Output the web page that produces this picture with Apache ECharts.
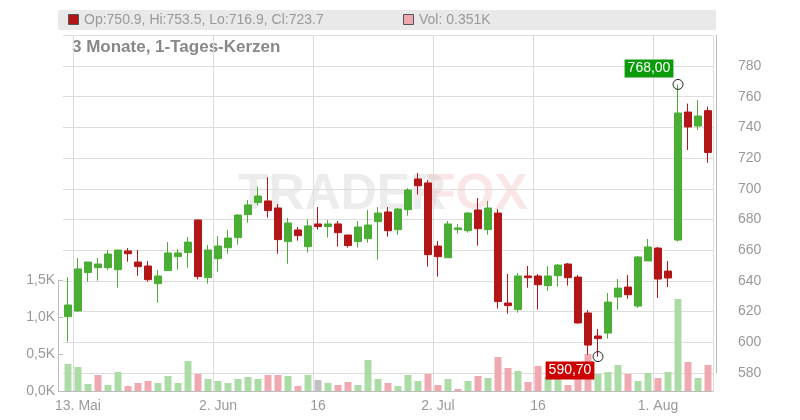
<!DOCTYPE html>
<html>
<head>
<meta charset="utf-8">
<script src="https://cdn.jsdelivr.net/npm/echarts@6/dist/echarts.min.js"></script>
<style>
  html, body { margin: 0; padding: 0; background: #fff; }
  #chart { width: 800px; height: 420px; }
</style>
</head>
<body>
<div id="chart"></div>
<script>
// candles: [open, close, low, high]
var opens  = [616.7,620.4,645.4,648.6,648.6,647.3,659.5,652.3,649.7,638.2,646.7,655.8,658.4,679.7,642.1,654.5,661.6,668.2,683.2,691.0,692.1,687.5,665.6,673.2,
              662.3,677.1,675.4,677.1,669.9,665.6,667.5,678.6,684.9,673.4,686.4,706.4,703.8,662.7,655.1,673.4,672.7,686.2,673.4,684.2,625.6,621.3,643.2,643.2,
              636.9,643.4,651.0,642.5,619.1,604.1,606.0,629.5,636.0,623.6,653.0,661.4,646.4,666.6,750.0,740.9,750.9];
var closes = [624.3,647.8,652.3,651.0,657.5,660.1,657.7,649.3,640.8,643.2,658.2,658.2,665.3,642.8,660.1,662.7,667.9,682.9,689.5,695.3,685.8,666.9,677.7,669.5,
              675.8,675.4,677.1,671.4,663.0,675.1,676.4,684.2,672.7,686.8,699.2,702.0,657.1,655.8,677.1,674.5,684.2,674.0,687.5,626.5,623.9,643.2,642.1,637.5,
              643.2,650.3,642.1,612.6,598.2,602.4,626.2,635.3,631.0,655.6,662.1,641.2,641.9,749.4,740.3,747.4,723.7];
var lows   = [600.4,620.0,639.5,640.2,647.1,635.6,652.5,643.4,639.5,625.8,646.7,647.3,648.6,641.0,638.2,646.0,657.7,663.6,677.9,689.0,681.2,657.7,651.2,666.2,
              658.4,673.4,668.2,662.3,661.7,661.7,664.9,653.8,668.8,670.1,682.5,696.2,649.3,642.8,655.1,670.8,671.4,663.0,670.1,621.9,618.7,619.3,635.6,621.3,
              633.6,636.2,636.9,612.1,591.9,590.7,602.4,621.2,628.4,622.3,653.0,628.9,636.0,665.6,725.3,738.3,716.9];
var highs  = [642.3,654.9,652.3,654.9,660.1,660.1,661.4,660.1,653.0,647.1,665.3,660.8,668.6,679.7,663.4,669.2,673.2,683.6,692.7,701.4,707.5,690.1,681.0,675.1,
              680.1,688.1,679.7,679.0,669.9,679.0,686.2,688.1,688.1,687.5,700.5,710.3,705.7,666.0,679.0,677.1,684.9,694.0,692.1,686.8,644.5,645.1,649.7,644.5,
              649.7,651.0,651.7,643.8,621.0,608.7,632.1,641.2,643.8,656.2,667.3,662.1,653.0,768.0,755.5,757.8,753.5];
// volume in thousands
var volumes = [0.365,0.324,0.095,0.216,0.081,0.257,0.068,0.108,0.135,0.108,0.203,0.108,0.405,0.230,0.162,0.135,0.108,0.162,0.189,0.162,0.216,0.216,0.203,0.068,
               0.216,0.149,0.108,0.081,0.122,0.081,0.419,0.162,0.108,0.068,0.216,0.135,0.230,0.081,0.162,0.027,0.135,0.203,0.176,0.459,0.311,0.270,0.122,0.338,
               0.19,0.19,0.081,0.19,0.5,0.23,0.257,0.351,0.23,0.135,0.243,0.176,0.257,1.243,0.392,0.176,0.351];
var volumeUp = [1,1,1,0,1,1,0,0,0,1,1,1,1,0,1,1,1,1,1,1,0,0,1,0,
                1,2,1,0,0,1,1,1,0,1,1,1,0,0,1,0,1,0,1,0,0,1,0,0,
                1,1,0,0,0,1,1,1,0,1,1,0,1,1,0,1,0];
var tickLabels = {1: '13. Mai', 15: '2. Jun', 25: '16', 37: '2. Jul', 47: '16', 59: '1. Aug'};

var categories = [];
for (let i = 0; i < opens.length; i++) categories.push(String(i));

var chart = echarts.init(document.getElementById('chart'));

var candleData = opens.map(function(o, i) { return [o, closes[i], lows[i], highs[i]]; });
var volColors = ['#f0a9b1', '#acdca5', '#c0c0c0'];
var volData = volumes.map(function(v, i) {
    return { value: v, itemStyle: { color: volColors[volumeUp[i]] } };
});

var showTick = function(i) { return tickLabels[i] !== undefined; };

var option = {
    animation: false,
    textStyle: { fontFamily: 'Arial, Liberation Sans, sans-serif' },
    graphic: [
        { type: 'rect', left: 58, top: 10, shape: { width: 658, height: 20 }, style: { fill: '#e9e9e9' }, z: -10 },
        { type: 'rect', left: 68, top: 14, shape: { width: 10, height: 10 }, style: { fill: '#b31616', stroke: '#555', lineWidth: 1 } },
        { type: 'text', left: 84, top: 13, style: { text: 'Op:750.9, Hi:753.5, Lo:716.9, Cl:723.7', fill: '#999', font: '14px Arial, Liberation Sans' } },
        { type: 'rect', left: 403, top: 14, shape: { width: 10, height: 10 }, style: { fill: '#f0a9b1', stroke: '#555', lineWidth: 1 } },
        { type: 'text', left: 419, top: 13, style: { text: 'Vol: 0.351K', fill: '#999', font: '14px Arial, Liberation Sans' } },
        { type: 'text', left: 72, top: 39, style: { text: '3 Monate, 1-Tages-Kerzen', fill: '#888', font: 'bold 17px Arial, Liberation Sans' } },
        { type: 'text', left: 238, top: 170, z: -5, style: { text: 'TRADER', fill: 'rgba(200,200,200,0.35)', font: 'bold 50px Arial, Liberation Sans' } },
        { type: 'text', left: 425, top: 170, z: -5, style: { text: 'FOX', fill: 'rgba(240,170,175,0.3)', font: 'bold 50px Arial, Liberation Sans' } }
    ],
    grid: [
        { left: 63, right: 87, top: 35.3, bottom: 47 },
        { left: 63, right: 87, top: 280, bottom: 29 }
    ],
    xAxis: [
        {
            type: 'category', gridIndex: 0, data: categories,
            axisLine: { show: false }, axisTick: { show: false }, axisLabel: { show: false },
            splitLine: { show: true, interval: function(i) { return showTick(i); }, lineStyle: { color: '#ddd' } }
        },
        {
            type: 'category', gridIndex: 1, data: categories,
            axisLine: { lineStyle: { color: '#bbb' } }, axisTick: { show: false },
            axisLabel: {
                interval: function(i) { return showTick(i); },
                formatter: function(v, i) { return tickLabels[i] || ''; },
                color: '#999', fontSize: 14, margin: 8
            },
            splitLine: { show: true, interval: function(i) { return showTick(i); }, lineStyle: { color: '#ddd' } }
        }
    ],
    yAxis: [
        {
            type: 'value', gridIndex: 0, position: 'right', offset: 3,
            min: 580, max: 800, interval: 20,
            axisLine: { show: true, lineStyle: { color: '#bbb' } }, axisTick: { show: false },
            axisLabel: { color: '#999', fontSize: 14, margin: 22, formatter: function(v) { return v >= 800 ? '' : v; } },
            splitLine: { lineStyle: { color: '#ddd' } }
        },
        {
            type: 'value', gridIndex: 1, position: 'left', offset: 5,
            min: 0, max: 1.5, interval: 0.5,
            axisLine: { show: true, lineStyle: { color: '#bbb' } },
            axisTick: { show: true, length: 5, inside: true, lineStyle: { color: '#bbb' } },
            axisLabel: { color: '#999', fontSize: 14, margin: 3, formatter: function(v) { return v.toFixed(1).replace('.', ',') + 'K'; } },
            splitLine: { show: false }
        }
    ],
    series: [
        {
            type: 'bar', xAxisIndex: 1, yAxisIndex: 1, data: volData,
            barWidth: 7, z: 1
        },
        {
            type: 'candlestick', xAxisIndex: 0, yAxisIndex: 0, data: candleData,
            barWidth: 7, z: 3,
            itemStyle: { color: '#4aad34', color0: '#b31616', borderColor: '#4aad34', borderColor0: '#b31616', borderWidth: 1 },
            markPoint: {
                symbol: 'circle', symbolSize: 10,
                itemStyle: { color: 'rgba(255,255,255,0)', borderColor: '#222', borderWidth: 1 },
                data: [
                    { coord: ['61', 768.0], value: '768,00',
                      label: { show: true, formatter: '768,00', color: '#fff', fontSize: 14, backgroundColor: '#0a9a0a', padding: [2, 3], offset: [-29, -16] } },
                    { coord: ['53', 590.7], value: '590,70',
                      label: { show: true, formatter: '590,70', color: '#fff', fontSize: 14, backgroundColor: '#cc0000', padding: [2, 3], offset: [-28, 14] } }
                ]
            }
        }
    ]
};

chart.setOption(option);
</script>
</body>
</html>
